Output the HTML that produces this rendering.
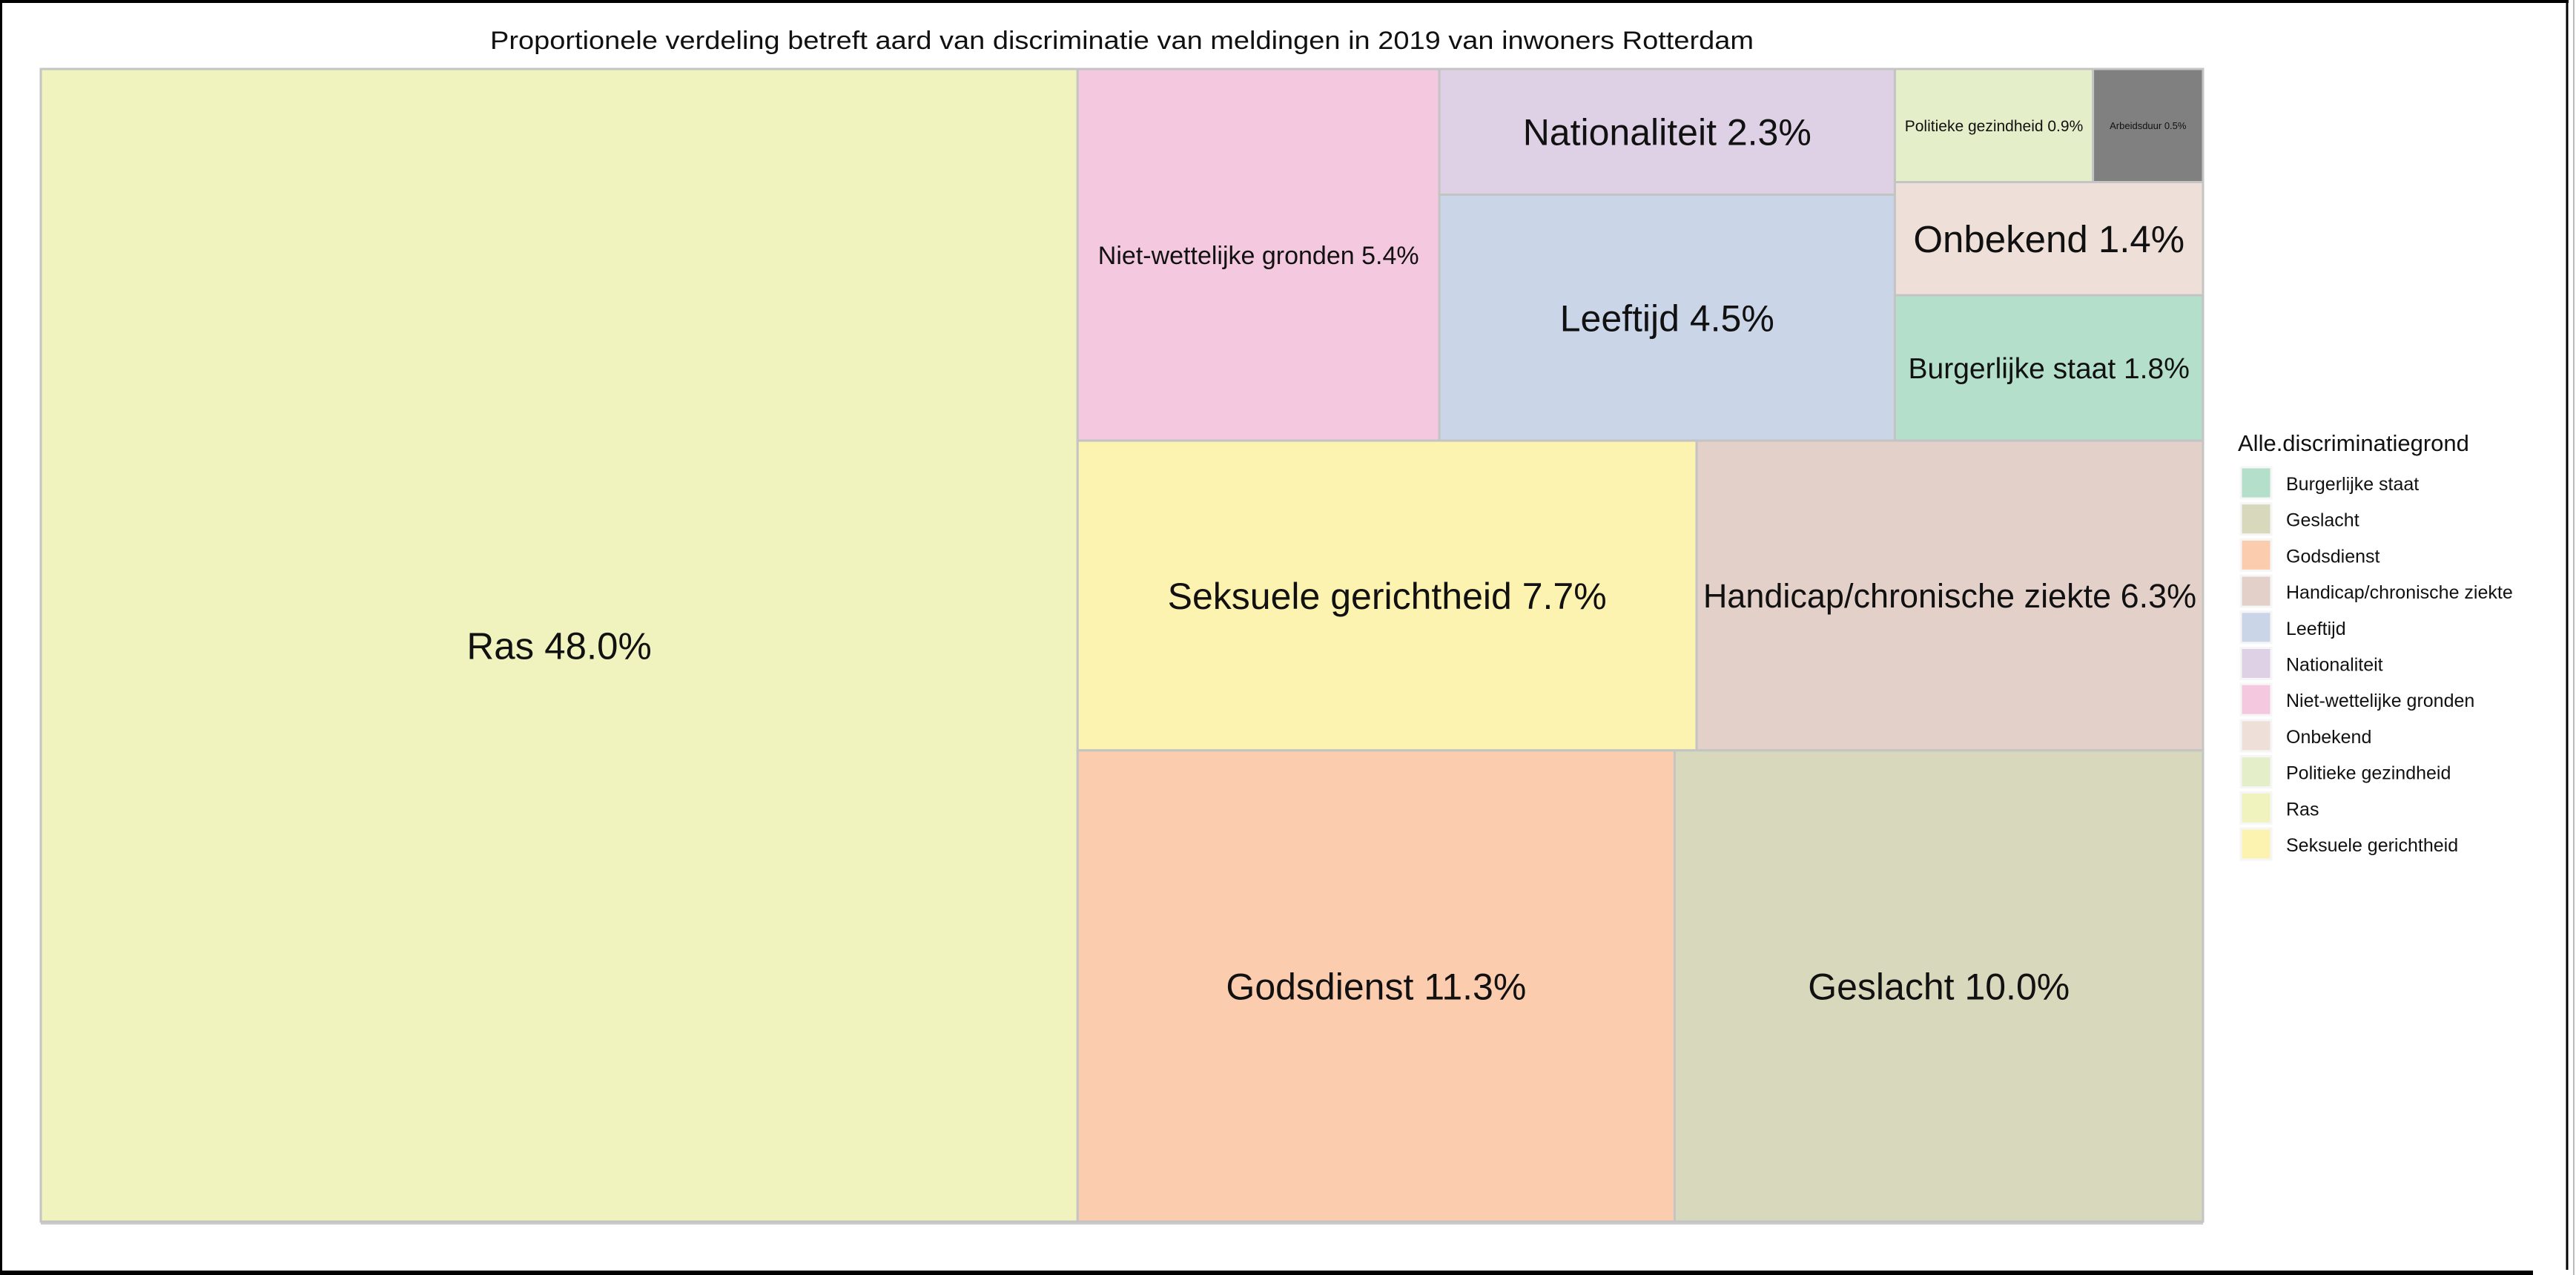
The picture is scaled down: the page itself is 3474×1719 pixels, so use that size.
<!DOCTYPE html>
<html><head><meta charset="utf-8"><style>
html,body{margin:0;padding:0;background:#fff;}
#wrap{position:relative;width:3474px;height:1719px;overflow:hidden;}
svg text{font-family:"Liberation Sans",Arial,sans-serif;fill:#111;}
</style></head><body>
<div id="wrap">
<svg id="chart" width="3474" height="1719" viewBox="0 0 3474 1719">
  <rect x="1" y="1" width="3460" height="1714" fill="#fff" stroke="none"/>
  <line x1="0" y1="2" x2="3464" y2="2" stroke="#000" stroke-width="4"/>
  <line x1="1.5" y1="0" x2="1.5" y2="1719" stroke="#000" stroke-width="3"/>
  <line x1="3462" y1="0" x2="3462" y2="1712" stroke="#000" stroke-width="3"/>
  <line x1="3471" y1="0" x2="3471" y2="1719" stroke="#bbbbbb" stroke-width="2"/>
  <line x1="0" y1="1716" x2="3416" y2="1716" stroke="#000" stroke-width="6"/>
  <text x="1513" y="66" font-size="34" text-anchor="middle" textLength="1704" lengthAdjust="spacingAndGlyphs">Proportionele verdeling betreft aard van discriminatie van meldingen in 2019 van inwoners Rotterdam</text>
  <rect x="55" y="1646" width="2916" height="5" fill="#cccccc"/>
  <g id="tiles"></g>
  <g id="legend"></g>
</svg>
</div>
<script>
// ---- data ----
const categories = ["Ras","Niet-wettelijke gronden","Nationaliteit","Leeftijd","Politieke gezindheid","Arbeidsduur","Onbekend","Burgerlijke staat","Seksuele gerichtheid","Handicap/chronische ziekte","Godsdienst","Geslacht"];
const values = [48.0,5.4,2.3,4.5,0.9,0.5,1.4,1.8,7.7,6.3,11.3,10.0];
const legendItems = ["Burgerlijke staat","Geslacht","Godsdienst","Handicap/chronische ziekte","Leeftijd","Nationaliteit","Niet-wettelijke gronden","Onbekend","Politieke gezindheid","Ras","Seksuele gerichtheid"];
const legendTitle = "Alle.discriminatiegrond";

// ---- styling ----
const colors = {"Burgerlijke staat":"#b3dfcb","Geslacht":"#d8d8bc","Godsdienst":"#fbccad","Handicap/chronische ziekte":"#e3d1c9","Leeftijd":"#cad5e8","Nationaliteit":"#ded0e5","Niet-wettelijke gronden":"#f4c8df","Onbekend":"#eee0d8","Politieke gezindheid":"#e4efc9","Ras":"#f0f3be","Seksuele gerichtheid":"#fcf3b0","Arbeidsduur":"#808080"};
const labelFont = {"Ras":51,"Niet-wettelijke gronden":34,"Nationaliteit":50,"Leeftijd":50,"Politieke gezindheid":21,"Arbeidsduur":13,"Onbekend":51,"Burgerlijke staat":39,"Seksuele gerichtheid":50,"Handicap/chronische ziekte":45,"Godsdienst":50,"Geslacht":50};
// slicing structure (indices into categories); 'h' = side by side, 'v' = stacked
const layoutTree = {d:'h',c:[0,{d:'v',c:[
  {d:'h',c:[1,{d:'v',c:[2,3]},{d:'v',c:[{d:'h',c:[4,5]},6,7]}]},
  {d:'h',c:[8,9]},
  {d:'h',c:[10,11]}
]}]};
const area = {x0:55,y0:93,x1:2971,y1:1647};

const NS="http://www.w3.org/2000/svg";
const tiles=document.getElementById('tiles');
function total(n){return typeof n==='number'?values[n]:n.c.reduce((s,k)=>s+total(k),0);}
function slug(s){return s.toLowerCase().replace(/[^a-z0-9]+/g,'-').replace(/-$/,'');}
function place(n,x,y,w,h){
  if(typeof n==='number'){drawTile(n,x,y,w,h);return;}
  const t=total(n);let off=0;
  n.c.forEach(k=>{
    const f=total(k)/t;
    if(n.d==='h'){place(k,x+off,y,w*f,h);off+=w*f;}
    else{place(k,x,y+off,w,h*f);off+=h*f;}
  });
}
function drawTile(i,x,y,w,h){
  const name=categories[i];
  const r=document.createElementNS(NS,'rect');
  r.setAttribute('x',x);r.setAttribute('y',y);r.setAttribute('width',w);r.setAttribute('height',h);
  r.setAttribute('fill',colors[name]);r.setAttribute('stroke','#c4c4c4');r.setAttribute('stroke-width','3');
  
  
  tiles.appendChild(r);
  const fs=labelFont[name]||40;
  const t=document.createElementNS(NS,'text');
  t.setAttribute('x',x+w/2);t.setAttribute('y',y+h/2+fs*0.36);
  t.setAttribute('font-size',fs);t.setAttribute('text-anchor','middle');
  t.textContent=name+' '+values[i].toFixed(1)+'%';
  
  
  tiles.appendChild(t);
}
place(layoutTree,area.x0,area.y0,area.x1-area.x0,area.y1-area.y0);

// legend
const lg=document.getElementById('legend');
const tt=document.createElementNS(NS,'text');
tt.setAttribute('x',3018);tt.setAttribute('y',608);tt.setAttribute('font-size',31);
tt.textContent=legendTitle;


lg.appendChild(tt);
legendItems.forEach((name,i)=>{
  const y=630+i*48.7;
  const k=document.createElementNS(NS,'rect');
  k.setAttribute('x',3022);k.setAttribute('y',y);k.setAttribute('width',41);k.setAttribute('height',42);
  k.setAttribute('fill',colors[name]);k.setAttribute('stroke','#f6f6f6');k.setAttribute('stroke-width','3');
  
  
  lg.appendChild(k);
  const l=document.createElementNS(NS,'text');
  l.setAttribute('x',3083);l.setAttribute('y',y+31);l.setAttribute('font-size',25);
  l.textContent=name;
  
  
  lg.appendChild(l);
});
</script>
</body></html>
